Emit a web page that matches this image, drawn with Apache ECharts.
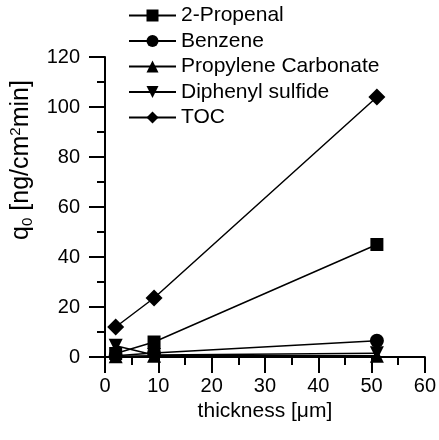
<!DOCTYPE html>
<html><head><meta charset="utf-8">
<script src="https://cdn.jsdelivr.net/npm/echarts@6/dist/echarts.min.js"></script>
<style>html,body{margin:0;padding:0;background:#fff}#c{width:439px;height:440px}</style>
</head><body><div id="c"></div>
<script>
const thickness = [2, 9.2, 51];
const propenal = [1.4, 6.0, 45];
const benzene = [0.5, 1.6, 6.5];
const propyleneCarbonate = [0.3, 0.5, 0.5];
const diphenylSulfide = [4.5, 0.8, 1.5];
const toc = [12, 23.6, 104];
const seriesNames = ['2-Propenal', 'Benzene', 'Propylene Carbonate', 'Diphenyl sulfide', 'TOC'];
const xTicks = [0, 10, 20, 30, 40, 50, 60];
const yTicks = [0, 20, 40, 60, 80, 100, 120];

const FONT = 'Liberation Sans, Arial, sans-serif';
const pairs = v => thickness.map((t, i) => [t, v[i]]);
const mk = (name, vals, symbol, size, rot) => ({
  name, type: 'line', data: pairs(vals), symbol, symbolSize: size, symbolRotate: rot || 0,
  lineStyle: { color: '#000', width: 1.5 }, itemStyle: { color: '#000' },
  showAllSymbol: true, animation: false
});
const axisCommon = {
  axisLine: { show: true, onZero: false, lineStyle: { color: '#000', width: 2 } },
  axisTick: { show: true, inside: false, length: 16, lineStyle: { color: '#000', width: 2 } },
  minorTick: { show: true, splitNumber: 2, length: 8, lineStyle: { color: '#000', width: 2 } },
  splitLine: { show: false },
  axisLabel: { color: '#000', fontSize: 20, fontFamily: FONT }
};
const chart = echarts.init(document.getElementById('c'));
chart.setOption({
  animation: false,
  backgroundColor: '#fff',
  grid: { left: 102, top: 57, width: 325, height: 300 },
  legend: {
    orient: 'vertical', left: 123, top: 0,
    itemWidth: 47, itemHeight: 15, itemGap: 4.5,
    data: seriesNames,
    textStyle: { color: '#000', fontSize: 21, fontFamily: FONT, lineHeight: 20 },
    inactiveColor: '#000'
  },
  xAxis: Object.assign({}, axisCommon, {
    type: 'value', min: xTicks[0], max: xTicks[xTicks.length - 1], interval: 10,
    name: 'thickness [μm]', nameLocation: 'middle', nameGap: 31,
    nameTextStyle: { color: '#000', fontSize: 21, fontFamily: FONT },
    axisLabel: Object.assign({}, axisCommon.axisLabel, { margin: 19 })
  }),
  yAxis: Object.assign({}, axisCommon, {
    type: 'value', min: yTicks[0], max: yTicks[yTicks.length - 1], interval: 20,
    name: '{m|q}{sub|0}{m| [ng/cm}{sup|2}{m|min]}', nameLocation: 'middle', nameGap: 70,
    nameTextStyle: {
      color: '#000', fontSize: 25, fontFamily: FONT, padding: [0, 0, 0, 94],
      rich: {
        m: { fontSize: 25, fontFamily: FONT, color: '#000' },
        sub: { fontSize: 15, fontFamily: FONT, color: '#000', verticalAlign: 'bottom', padding: [12, 0, 0, 0] },
        sup: { fontSize: 15, fontFamily: FONT, color: '#000', verticalAlign: 'top', padding: [0, 0, 12, 0] }
      }
    },
    axisLabel: Object.assign({}, axisCommon.axisLabel, { margin: 25 })
  }),
  series: [
    mk(seriesNames[0], propenal, 'rect', 13),
    mk(seriesNames[1], benzene, 'circle', 14),
    mk(seriesNames[2], propyleneCarbonate, 'triangle', 14),
    mk(seriesNames[3], diphenylSulfide, 'triangle', 14, 180),
    mk(seriesNames[4], toc, 'diamond', 17)
  ]
});
</script></body></html>
